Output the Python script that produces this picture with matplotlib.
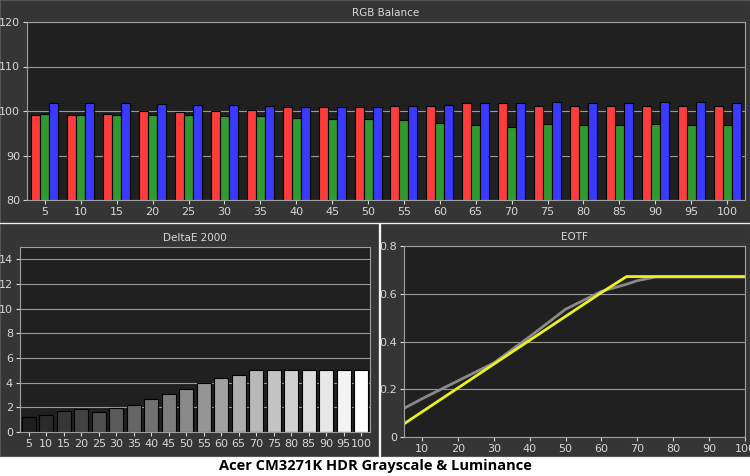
import matplotlib
matplotlib.use("Agg")
import matplotlib.pyplot as plt
import numpy as np
from matplotlib.patches import Rectangle

levels = [5,10,15,20,25,30,35,40,45,50,55,60,65,70,75,80,85,90,95,100]
red = [99.2,99.2,99.4,99.9,99.7,100.1,100.3,100.8,100.8,101.0,101.2,101.2,101.7,101.7,101.2,101.2,101.2,101.2,101.2,101.2]
green = [99.4,99.2,99.0,99.0,99.0,98.8,98.8,98.5,98.3,98.3,97.9,97.4,96.8,96.5,97.0,96.8,96.8,97.0,96.8,96.8]
blue = [101.7,101.7,101.7,101.5,101.3,101.3,101.1,100.8,100.8,101.0,101.1,101.3,101.7,101.9,102.1,101.9,101.9,102.1,102.1,101.9]
deltae = [1.2,1.4,1.7,1.85,1.6,1.95,2.15,2.7,3.1,3.5,4.0,4.35,4.6,5.0,5.0,5.05,5.05,5.0,5.05,5.05]
eotf_target_x = [5,10,20,30,40,50,60,67,70,75,80,90,100]
eotf_target_y = [0.12,0.16,0.235,0.31,0.42,0.535,0.61,0.64,0.655,0.67,0.67,0.67,0.67]
eotf_meas_x = [5,10,20,30,40,50,60,67,70,80,90,100]
eotf_meas_y = [0.055,0.105,0.205,0.305,0.405,0.505,0.605,0.672,0.672,0.672,0.672,0.672]

W, H = 750, 476
fig = plt.figure(figsize=(7.5, 4.76), dpi=100)
fig.patch.set_facecolor('white')
PANEL = '#353535'
PLOT = '#202020'
TXT = '#d8d8d8'

def box(x0, y0, x1, y1):
    return [x0/W, 1-y1/H, (x1-x0)/W, (y1-y0)/H]

# panel backgrounds
for (x0,y0,x1,y1) in [(0,0,750,222),(0,224,378,456),(381,224,750,456)]:
    fig.patches.append(Rectangle((x0/W,1-y1/H),(x1-x0)/W,(y1-y0)/H,transform=fig.transFigure,
                                 facecolor=PANEL,edgecolor='#555555',lw=0.8,zorder=-10))

def style(ax, title):
    ax.set_facecolor(PLOT)
    for s in ax.spines.values():
        s.set_color('#a0a0a0')
    ax.tick_params(colors=TXT, labelsize=8, length=3, pad=2)
    ax.grid(axis='y', color='#9a9a9a', lw=0.8)
    ax.set_axisbelow(True)
    ax.set_title(title, color=TXT, fontsize=7.5, pad=4)

# RGB balance
ax = fig.add_axes(box(27,22,745,200))
x = np.arange(len(levels))
w = 0.25
ax.bar(x-w, red, w, color='#ff3c3c', edgecolor='black', lw=0.8)
ax.bar(x, green, w, color='#2f9a2f', edgecolor='black', lw=0.8)
ax.bar(x+w, blue, w, color='#3a3aff', edgecolor='black', lw=0.8)
ax.set_ylim(80,120)
ax.set_yticks([80,90,100,110,120])
ax.set_xlim(-0.5, len(levels)-0.5)
ax.set_xticks(x)
ax.set_xticklabels([str(v) for v in levels])
style(ax, 'RGB Balance')

# DeltaE
ax2 = fig.add_axes(box(20,247,370,432))
cols = [str(0.12+0.88*i/(len(levels)-1)) for i in range(len(levels))]
ax2.bar(x, deltae, 0.78, color=cols, edgecolor='black', lw=0.8)
ax2.set_ylim(0,15)
ax2.set_yticks([0,2,4,6,8,10,12,14])
ax2.set_xlim(-0.5, len(levels)-0.5)
ax2.set_xticks(x)
ax2.set_xticklabels([str(v) for v in levels])
style(ax2, 'DeltaE 2000')

# EOTF
ax3 = fig.add_axes(box(404,246,745,437))
ax3.plot(eotf_target_x, eotf_target_y, color='#8a8a8a', lw=2)
ax3.plot(eotf_meas_x, eotf_meas_y, color='#f0f020', lw=2)
ax3.set_xlim(5,100)
ax3.set_ylim(0,0.8)
ax3.set_xticks([10,20,30,40,50,60,70,80,90,100])
ax3.set_yticks([0,0.2,0.4,0.6,0.8])
ax3.set_yticklabels(['0','0.2','0.4','0.6','0.8'])
style(ax3, 'EOTF')

fig.text(0.5, 1-466/H, 'Acer CM3271K HDR Grayscale & Luminance', ha='center', va='center',
         fontsize=10.5, fontweight='bold', color='black', family='Open Sans')

fig.savefig('out.png', dpi=100, facecolor=fig.get_facecolor())
